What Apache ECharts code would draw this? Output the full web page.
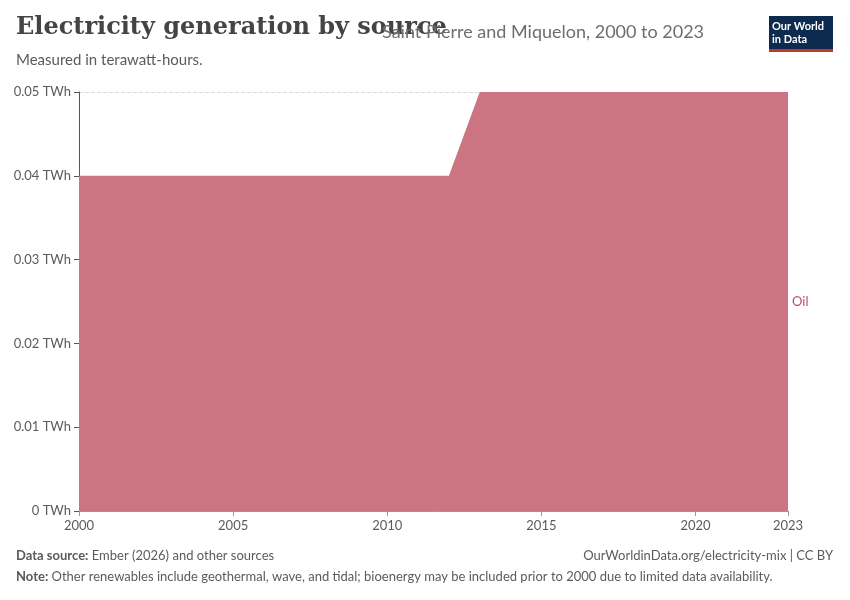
<!DOCTYPE html>
<html><head><meta charset="utf-8">
<script src="https://cdn.jsdelivr.net/npm/echarts@6/dist/echarts.min.js"></script>
<style>body{margin:0}#c{width:850px;height:600px}</style></head>
<body><div id="c"></div>
<script>
// years and oil generation (TWh)
const years = [];
for (let y = 2000; y <= 2023; y++) years.push(y);
const oil = [0.04,0.04,0.04,0.04,0.04,0.04,0.04,0.04,0.04,0.04,0.04,0.04,0.04,
             0.05,0.05,0.05,0.05,0.05,0.05,0.05,0.05,0.05,0.05,0.05];
const xTicks = [2000, 2005, 2010, 2015, 2020, 2023];

const chart = echarts.init(document.getElementById('c'));
const grey = '#5b5b5b';
chart.setOption({
  animation: false,
  grid: { left: 79, right: 62, top: 92, bottom: 89 },
  graphic: [
    { type: 'text', left: 16, top: 16, style: { text: 'Electricity generation by source', font: 'bold 24px "DejaVu Serif", serif', fill: '#444' } },
    { type: 'text', left: 382, top: 23, style: { text: 'Saint Pierre and Miquelon, 2000 to 2023', font: '18px Lato', fill: '#6e6e6e' } },
    { type: 'text', left: 16, top: 53, style: { text: 'Measured in terawatt-hours.', font: '15px Lato', fill: grey } },
    { type: 'rect', right: 17, top: 16, shape: { width: 64, height: 34 }, style: { fill: '#0d2a4f' } },
    { type: 'rect', right: 17, top: 49, shape: { width: 64, height: 3 }, style: { fill: '#c0392b' } },
    { type: 'text', right: 20, top: 20, style: { text: 'Our World\nin Data', font: 'bold 11px Lato', fill: '#fff', align: 'center', lineHeight: 13, width: 58 } },
    { type: 'text', left: 792, top: 295, style: { text: 'Oil', font: '13px Lato', fill: '#c0506a' } },
    { type: 'text', left: 16, top: 549, style: { rich: { b: { font: 'bold 13px Lato', fill: grey }, n: { font: '13px Lato', fill: grey } }, text: '{b|Data source:} {n|Ember (2026) and other sources}' } },
    { type: 'text', right: 17, top: 549, style: { text: 'OurWorldinData.org/electricity-mix | CC BY', font: '13px Lato', fill: grey } },
    { type: 'text', left: 16, top: 570, style: { rich: { b: { font: 'bold 13px Lato', fill: grey }, n: { font: '13px Lato', fill: grey } }, text: '{b|Note:} {n|Other renewables include geothermal, wave, and tidal; bioenergy may be included prior to 2000 due to limited data availability.}' } }
  ],
  xAxis: {
    type: 'value', min: 2000, max: 2023,
    axisLine: { show: true, lineStyle: { color: '#999' } },
    axisTick: { show: true, length: 5, lineStyle: { color: '#999' } },
    splitLine: { show: false },
    axisLabel: { color: grey, fontFamily: 'Lato', fontSize: 13, customValues: xTicks, formatter: v => String(v) },
    axisTick: { customValues: xTicks, lineStyle: { color: '#999' } }
  },
  yAxis: {
    type: 'value', min: 0, max: 0.05, interval: 0.01,
    axisLabel: { color: grey, fontFamily: 'Lato', fontSize: 13, formatter: v => (v === 0 ? '0' : v.toFixed(2)) + ' TWh' },
    splitLine: { lineStyle: { color: '#ddd', type: 'dashed' } }
  },
  series: [{
    type: 'line', data: years.map((y, i) => [y, oil[i]]),
    showSymbol: false, lineStyle: { width: 0 },
    areaStyle: { color: '#cc7482', opacity: 1 }
  }]
});
</script></body></html>
